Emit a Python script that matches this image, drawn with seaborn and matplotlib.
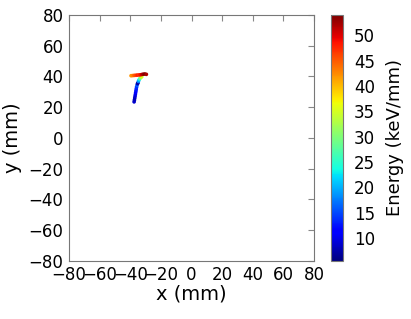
import numpy as np
import pandas as pd
import seaborn as sns
import matplotlib
matplotlib.use('Agg')
import matplotlib.pyplot as plt
from matplotlib.colors import Normalize
from matplotlib.cm import ScalarMappable

# track hits: position (mm) and deposited energy (keV/mm)
x_mm = [-37.5, -37.3, -37.1, -36.9, -36.7, -36.5, -36.3, -36.1, -35.9, -35.6, -35.3, -35.0,
        -34.7, -34.3, -33.8, -33.2, -32.5,
        -39.5, -38.5, -37.5, -36.5, -35.5, -34.5, -33.5, -32.5, -31.5, -30.5, -29.5]
y_mm = [23.5, 24.7, 25.9, 27.1, 28.3, 29.5, 30.7, 31.9, 33.1, 34.3, 35.3, 35.8,
        36.8, 37.8, 38.6, 39.3, 39.8,
        40.5, 40.6, 40.7, 40.8, 40.9, 41.0, 41.1, 41.3, 41.5, 41.6, 41.4]
energy = [9, 8, 8, 9, 10, 11, 12, 13, 14, 16, 8, 7,
          18, 22, 27, 32, 35,
          42, 43, 45, 46, 48, 47, 49, 51, 53, 54, 52]

e_min, e_max = 5.5, 54
ticks = [-80, -60, -40, -20, 0, 20, 40, 60, 80]

df = pd.DataFrame({'x': x_mm, 'y': y_mm, 'energy': energy})

sns.set_style('white')
plt.rcParams['font.family'] = ['DejaVu Sans']
plt.rcParams['text.color'] = 'black'
plt.rcParams['axes.labelcolor'] = 'black'

fig = plt.figure(figsize=(4.11, 3.19), dpi=100)
ax = fig.add_axes([0.168, 0.182, 0.596, 0.771])
cax = fig.add_axes([0.805, 0.182, 0.029, 0.771])

jet = plt.get_cmap('jet')
norm = Normalize(e_min, e_max)
sns.scatterplot(data=df, x='x', y='y', hue='energy', palette=jet, hue_norm=norm,
                s=7, linewidth=0, legend=False, ax=ax)

ax.set_xlim(-80, 80)
ax.set_ylim(-80, 80)
ax.set_xticks(ticks)
ax.set_yticks(ticks)
ax.tick_params(direction='in', length=4, color='#888888', labelcolor='black',
               labelsize=12, top=True, right=True, pad=4)
for sp in ax.spines.values():
    sp.set_color('#777777')
    sp.set_linewidth(0.8)
ax.set_xlabel('x (mm)', fontsize=14, labelpad=0)
ax.set_ylabel('y (mm)', fontsize=14, labelpad=5)

cb = fig.colorbar(ScalarMappable(norm=norm, cmap=jet), cax=cax)
cb.set_ticks([10, 15, 20, 25, 30, 35, 40, 45, 50])
cb.ax.tick_params(direction='in', length=3, labelsize=12, color='#888888',
                  labelcolor='black', pad=8)
cb.outline.set_edgecolor('#777777')
cb.set_label('Energy (keV/mm)', fontsize=13, labelpad=8)

fig.savefig('out.png', dpi=100)
